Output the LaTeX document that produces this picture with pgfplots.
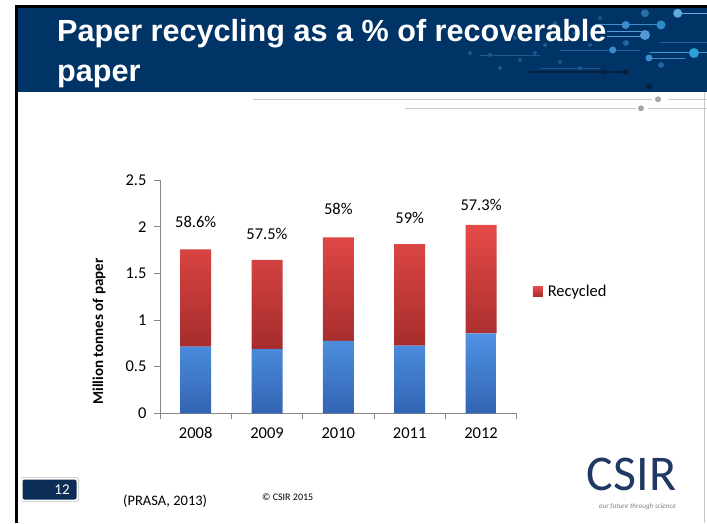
\documentclass[border=0pt]{standalone}
\usepackage{pgfplots}
\pgfplotsset{compat=1.18}
\usepackage{fontspec}
\setmainfont{Carlito}
\newfontfamily\titlefont{Liberation Sans}
\definecolor{navy}{RGB}{0,51,102}
\definecolor{boxnavy}{RGB}{12,45,85}
\definecolor{logonavy}{RGB}{31,56,100}
\definecolor{axisgray}{RGB}{134,134,134}
\definecolor{lgray}{RGB}{200,200,200}
\definecolor{dgray}{RGB}{165,165,165}
\definecolor{dA}{RGB}{93,169,224}
\definecolor{dB}{RGB}{46,139,200}
\definecolor{dC}{RGB}{40,110,170}
\definecolor{dD}{RGB}{58,140,203}
\definecolor{dE}{RGB}{80,155,214}
\definecolor{dF}{RGB}{47,160,216}
\definecolor{dG}{RGB}{30,100,165}
\definecolor{dH}{RGB}{10,30,64}
\definecolor{dI}{RGB}{35,85,140}
\definecolor{bluetop}{RGB}{80,146,228}
\definecolor{bluebot}{RGB}{50,100,178}
\definecolor{redtop}{RGB}{228,74,72}
\definecolor{redbot}{RGB}{165,44,44}

\pgfplotstableread{
x recycled
0 1.043
1 0.954
2 1.111
3 1.089
4 1.161
}\recycledtable
\pgfplotstableread{
x blue
0 0.714
1 0.689
2 0.775
3 0.725
4 0.857
}\bluetable

\begin{document}
\begin{tikzpicture}[x=1pt,y=1pt]
\useasboundingbox (0,0) rectangle (707,523);
\fill[white] (0,0) rectangle (707,523);
% frame
\fill[black] (15,0) rectangle (18,518);
\fill[black] (15,515) rectangle (707,518);
\fill[navy] (18,431) rectangle (707,515);
\draw[lgray,line width=0.8] (704,0) -- (704,431);
% header decoration
\draw[dA,line width=1.5] (678,509.7) -- (707,509.7);
\fill[dA] (677.7,509.7) circle (4.5);
\fill[dC] (645,509.7) circle (4);
\draw[dD,line width=1] (595,498) -- (665,498);
\fill[dB] (661,498) circle (4.5);
\fill[dD] (625.7,498) circle (4);
\draw[dE,line width=1] (607,491) -- (645,491);
\draw[dE,line width=1] (607,486) -- (645,486);
\fill[dE] (645,488) circle (5);
\draw[dG,line width=1] (660,480) -- (707,480);
\fill[dG] (626,480) circle (3);
\draw[dF,line width=1] (650,470) -- (707,470);
\fill[dF] (694,470) circle (5);
\draw[dG,line width=0.8] (560,473) -- (640,473);
\fill[dD] (612.7,473) circle (3.5);
\draw[dD,line width=0.8] (649,465) -- (685,465);
\fill[dD] (649,465) circle (3.5);
\fill[dG] (661,458) circle (3);
\draw[dH,line width=1.2] (530,451) -- (622,451);
\fill[dH] (625,451) circle (3);
\fill[dH] (605,451) circle (2.5);
\fill[dH] (649,436) circle (3);
\foreach \px/\py in {490/468,520/463,545/478,560/461,580/455,500/455,470/470,535/470,590/478,575/490,555/500,600/505,515/485,530/495}
  {\fill[dI] (\px,\py) circle (2);}
\draw[dI,line width=0.6] (480,468) -- (540,468);
\draw[dI,line width=0.6] (540,455) -- (600,455);
% title
\node[anchor=base west,inner sep=0,text=white,font=\titlefont\bfseries\fontsize{30.6pt}{40pt}\selectfont] at (57,481.3) {Paper recycling as a \% of recoverable};
\node[anchor=base west,inner sep=0,text=white,font=\titlefont\bfseries\fontsize{30.6pt}{40pt}\selectfont] at (57,441.3) {paper};
% lines under header
\draw[lgray,line width=1] (253,423.7) -- (652,423.7);
\fill[dgray] (658,423.7) circle (3);
\draw[lgray,line width=1] (668,423.7) -- (707,423.7);
\draw[lgray,line width=1] (405,414.7) -- (636,414.7);
\fill[dgray] (641,414.7) circle (3);
\draw[lgray,line width=1] (648,414.7) -- (707,414.7);
% page number
\fill[gray!35,rounded corners=2.5] (21,21) rectangle (79,46);
\fill[white,rounded corners=2.5] (21,22) rectangle (78,45);
\fill[boxnavy,rounded corners=2] (22.5,23.5) rectangle (76.5,43.5);
\node[anchor=center,inner sep=0,text=white,font=\fontsize{15pt}{18pt}\selectfont] at (62,33.5) {12};
% footer
\node[anchor=west,inner sep=0,font=\fontsize{14.5pt}{17pt}\selectfont] at (123,22) {(PRASA, 2013)};
\node[anchor=west,inner sep=0,font=\fontsize{10pt}{12pt}\selectfont] at (262,26) {© CSIR 2015};
% logo
\node[anchor=base,inner sep=0,text depth=0pt,text=logonavy,font=\fontsize{50pt}{54pt}\selectfont] at (631.5,33) {CSIR};
\node[anchor=center,inner sep=0,text=gray,font=\itshape\fontsize{7.2pt}{9pt}\selectfont] at (637.5,16.5) {our future through science};
% chart
\begin{axis}[
  at={(160pt,109.7pt)}, anchor=south west,
  scale only axis, width=356.7pt, height=233.3pt,
  ybar stacked, bar width=31pt,
  xmin=-0.5, xmax=4.5, ymin=0, ymax=2.5,
  xtick={0,1,2,3,4}, xticklabels={2008,2009,2010,2011,2012},
  minor xtick={-0.5,0.5,1.5,2.5,3.5,4.5},
  ytick={0,0.5,1,1.5,2,2.5},
  axis x line*=bottom, axis y line*=left,
  axis line style={axisgray,line width=0.8pt},
  tick align=outside,
  major x tick style={draw=none},
  minor x tick style={axisgray,line width=0.8pt},
  ytick style={axisgray,line width=0.8pt},
  major tick length=6pt, minor tick length=6pt,
  tick label style={font=\fontsize{16.5pt}{19pt}\selectfont, /pgf/number format/assume math mode=true},
  yticklabel style={xshift=-4pt},
  xticklabel style={anchor=north, text height=11pt, text depth=0pt, yshift=-5pt},
  ylabel={Million tonnes of paper},
  every axis y label/.style={at={(axis description cs:-0.171,0.35)}, rotate=90, anchor=center,
     font=\bfseries\fontsize{15pt}{18pt}\selectfont},
  legend style={at={(axis description cs:1.045,0.52)}, anchor=west, draw=none, fill=none,
     font=\fontsize{16.5pt}{19pt}\selectfont, inner sep=0pt, outer sep=0pt,
     nodes={inner sep=0pt}, /tikz/every odd column/.append style={column sep=5pt}},
  legend image code/.code={\path[#1] (0pt,-5pt) rectangle (10pt,5pt);},
  clip=false,
]
\addplot[draw=none, top color=bluetop, bottom color=bluebot, forget plot] table[x=x,y=blue] {\bluetable};
\addplot[draw=none, top color=redtop, bottom color=redbot] table[x=x,y=recycled] {\recycledtable};
\addlegendentry{Recycled}
\node[font=\fontsize{16.5pt}{19pt}\selectfont] at (axis cs:0,2.053) {58.6\%};
\node[font=\fontsize{16.5pt}{19pt}\selectfont] at (axis cs:1,1.918) {57.5\%};
\node[font=\fontsize{16.5pt}{19pt}\selectfont] at (axis cs:2,2.186) {58\%};
\node[font=\fontsize{16.5pt}{19pt}\selectfont] at (axis cs:3,2.089) {59\%};
\node[font=\fontsize{16.5pt}{19pt}\selectfont] at (axis cs:4,2.232) {57.3\%};
\end{axis}
\end{tikzpicture}
\end{document}
